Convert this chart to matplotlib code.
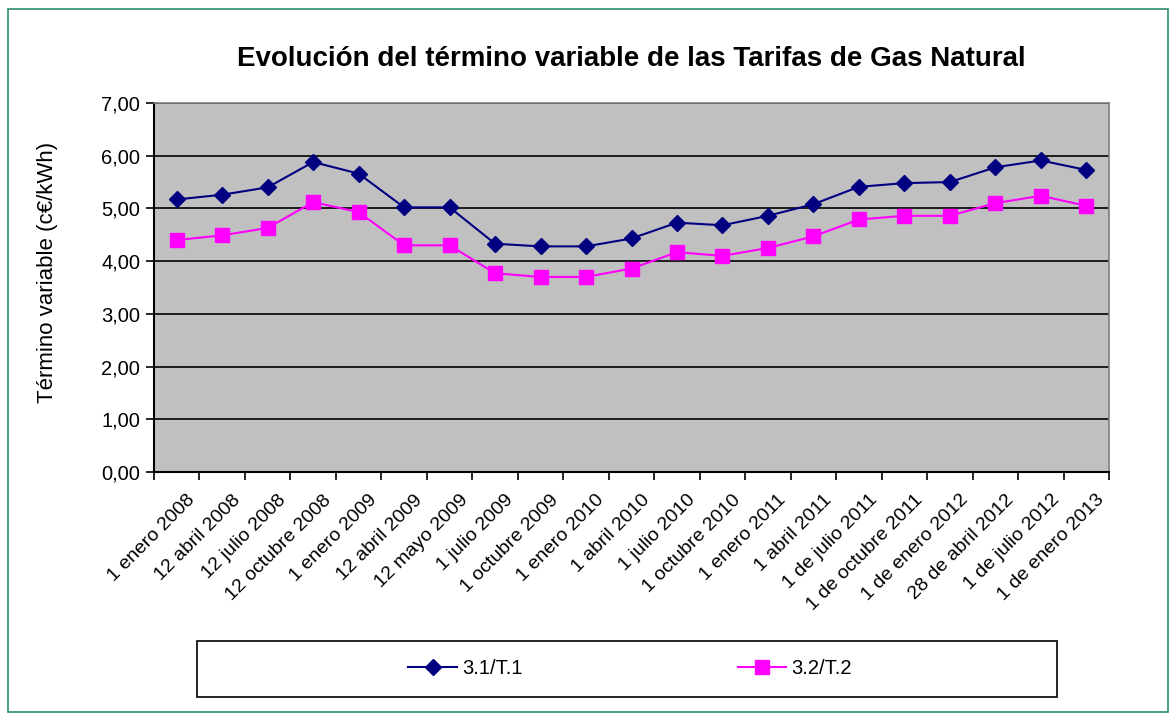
import matplotlib
matplotlib.use('Agg')
import matplotlib.pyplot as plt
from matplotlib.patches import Rectangle
from matplotlib.lines import Line2D
from matplotlib.transforms import ScaledTranslation

# fechas de cada tarifa
fechas = ['1 enero 2008', '12 abril 2008', '12 julio 2008', '12 octubre 2008',
          '1 enero 2009', '12 abril 2009', '12 mayo 2009', '1 julio 2009',
          '1 octubre 2009', '1 enero 2010', '1 abril 2010', '1 julio 2010',
          '1 octubre 2010', '1 enero 2011', '1 abril 2011', '1 de julio 2011',
          '1 de octubre 2011', '1 de enero 2012', '28 de abril 2012',
          '1 de julio 2012', '1 de enero 2013']

t1 = [5.17, 5.26, 5.40, 5.88, 5.66, 5.02, 5.02, 4.33, 4.28, 4.28, 4.43,
      4.73, 4.68, 4.86, 5.08, 5.41, 5.48, 5.50, 5.78, 5.91, 5.73]
t2 = [4.40, 4.49, 4.63, 5.12, 4.93, 4.30, 4.30, 3.77, 3.70, 3.70, 3.86,
      4.17, 4.10, 4.25, 4.47, 4.79, 4.86, 4.86, 5.10, 5.24, 5.05]

yticks = [0, 1, 2, 3, 4, 5, 6, 7]
ytick_labels = ['0,00', '1,00', '2,00', '3,00', '4,00', '5,00', '6,00', '7,00']

plt.rcParams['font.family'] = ['Liberation Sans', 'DejaVu Sans']

fig = plt.figure(figsize=(11.76, 7.21), dpi=100)
fig.patch.set_facecolor('white')

# marco exterior
fig.patches.append(Rectangle((8 / 1176, 9 / 721), 1160 / 1176, 703 / 721,
                             transform=fig.transFigure, fill=False,
                             edgecolor='#2e8b6e', linewidth=1.2))

ax = fig.add_axes([154 / 1176, 249 / 721, 955 / 1176, 369 / 721])
ax.set_facecolor('#c0c0c0')

x = list(range(len(fechas)))
ax.plot(x, t1, color='#000080', marker='D', markersize=8, linewidth=1.5,
        label='3.1/T.1', zorder=3)
ax.plot(x, t2, color='#ff00ff', marker='s', markersize=10, linewidth=1.5,
        label='3.2/T.2', zorder=3)

ax.set_xlim(-0.5, len(fechas) - 0.5)
ax.set_ylim(0, 7)
ax.set_yticks(yticks)
ax.set_yticklabels(ytick_labels, fontsize=14.5)
ax.yaxis.grid(True, color='black', linewidth=1.2)
ax.set_axisbelow(True)

ax.set_xticks(x)
ax.set_xticklabels(fechas, rotation=45, ha='right', rotation_mode='anchor',
                   fontsize=14)
ax.tick_params(axis='x', which='major', length=0, pad=14)
desplaza = ScaledTranslation(7 / 72, 0, fig.dpi_scale_trans)
for lab in ax.get_xticklabels():
    lab.set_transform(lab.get_transform() + desplaza)
ax.set_xticks([i - 0.5 for i in range(len(fechas) + 1)], minor=True)
ax.tick_params(axis='x', which='minor', length=6, width=1.2, color='black')
ax.tick_params(axis='y', length=6, width=1.2, pad=4)

for s in ['top', 'right']:
    ax.spines[s].set_color('#808080')
    ax.spines[s].set_linewidth(1.2)
for s in ['left', 'bottom']:
    ax.spines[s].set_color('black')
    ax.spines[s].set_linewidth(1.5)

ax.set_ylabel('Término variable (c€/kWh)', fontsize=16)
ax.yaxis.set_label_coords(-0.100, 0.54)
fig.suptitle('Evolución del término variable de las Tarifas de Gas Natural',
             x=631 / 1176, y=1 - 59 / 721, fontsize=20, fontweight='bold',
             va='center')

# leyenda
fig.patches.append(Rectangle((197 / 1176, 24 / 721), 860 / 1176, 56 / 721,
                             transform=fig.transFigure, fill=False,
                             edgecolor='black', linewidth=1.2))
handles = [Line2D([], [], color='#000080', marker='D', markersize=8, linewidth=1.5),
           Line2D([], [], color='#ff00ff', marker='s', markersize=10, linewidth=1.5)]
fig.legend(handles, ['3.1/T.1', '3.2/T.2'], loc='center',
           bbox_to_anchor=(630 / 1176, 52 / 721), ncol=2, frameon=False,
           fontsize=14.5, handlelength=2.4, handletextpad=0.25,
           columnspacing=10.7)

fig.savefig('out.png', dpi=100)
